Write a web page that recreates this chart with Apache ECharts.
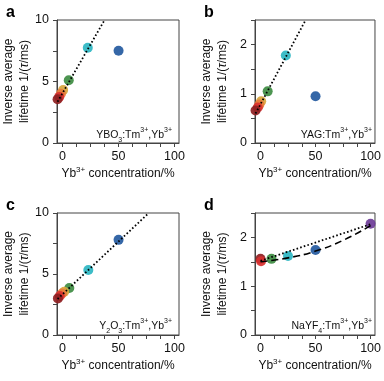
<!DOCTYPE html>
<html><head><meta charset="utf-8">
<script src="https://cdn.jsdelivr.net/npm/echarts@6/dist/echarts.min.js"></script>
<style>html,body{margin:0;padding:0;background:#fff}#c{width:384px;height:381px}</style>
</head><body><div id="c"></div>
<script>
// ---- data ----
const aX = [-4.5, -3, -1.5, 0.5, 5.5, 22.5, 50];
const aY = [3.55, 3.75, 4.0, 4.3, 5.1, 7.75, 7.5];
const aC = ['darkred','red','orange','yellow','green','cyan','blue'];
const aFitX = [-4.5, 37.5];
const aFitY = [3.35, 10];

const bX = [-4.5, -2.5, -1, 0.6, 6.5, 23, 50];
const bY = [0.66, 0.72, 0.78, 0.85, 1.05, 1.78, 0.95];
const bC = ['darkred','red','orange','yellow','green','cyan','blue'];
const bFitX = [-4.5, 41];
const bFitY = [0.6, 2.5];

const cX = [-4.2, -2.5, -0.5, 1.4, 6, 23, 50];
const cY = [3.0, 3.2, 3.4, 3.55, 3.85, 5.33, 7.8];
const cC = ['darkred','red','orange','yellow','green','cyan','blue'];
const cFitX = [-4.5, 77];
const cFitY = [2.95, 10];

const dX = [0.5, 0, 10, 25, 50, 100];
const dY = [1.51, 1.56, 1.56, 1.62, 1.74, 2.28];
const dC = ['red','darkred','green','cyan','blue','purple'];
const dDotX = [0, 100];
const dDotY = [1.52, 2.27];
const dDashX = [0, 25, 50, 75, 100];
const dDashY = [1.5, 1.58, 1.72, 1.94, 2.24];

const xTicks = [0, 12.5, 25, 37.5, 50, 62.5, 75, 87.5, 100];
const xLabels = [0, 50, 100];
const yTicksA = [0, 2.5, 5, 7.5, 10];
const yLabelsA = [0, 5, 10];
const yTicksB = [0, 0.5, 1, 1.5, 2, 2.5];
const yLabelsB = [0, 1, 2];

const panelLetters = ['a', 'b', 'c', 'd'];
const materials = [
  '{m|YBO}{sub|3}{m|:Tm}{sup|3+}{m|,Yb}{sup|3+}',
  '{m|YAG:Tm}{sup|3+}{m|,Yb}{sup|3+}',
  '{m|Y}{sub|2}{m|O}{sub|3}{m|:Tm}{sup|3+}{m|,Yb}{sup|3+}',
  '{m|NaYF}{sub|4}{m|:Tm}{sup|3+}{m|,Yb}{sup|3+}'
];

// ---- styles ----
const palette = {
  darkred: '#8e1f22', red: '#d8302f', orange: '#e6793a', yellow: '#d8a53c',
  green: '#3e8c42', cyan: '#2db6c2', blue: '#245a9f', purple: '#6c3b97'
};
const FONT = 'Liberation Sans, Arial, Helvetica, sans-serif';
const AX = '#444';

const grids = [
  {left: 57, top: 20, width: 122, height: 123},
  {left: 255, top: 20, width: 122, height: 123},
  {left: 57, top: 213, width: 122, height: 122},
  {left: 255, top: 213, width: 122, height: 122}
];

const supRich = {
  n: {fontFamily: FONT, fontSize: 12, color: '#111', lineHeight: 16},
  i: {fontFamily: FONT, fontSize: 12, color: '#111', fontStyle: 'italic', lineHeight: 16},
  sup: {fontFamily: FONT, fontSize: 8, color: '#111', verticalAlign: 'top', lineHeight: 16, padding: [0,0,6,0]}
};

function xAxisCfg(i) {
  return {
    type: 'value', gridIndex: i, min: -5, max: 104,
    axisLine: {onZero: false, lineStyle: {color: AX, width: 1}},
    axisTick: {show: true, customValues: xTicks, length: 4, lineStyle: {color: AX}},
    axisLabel: {customValues: xLabels, margin: 7, fontFamily: FONT, fontSize: 12.5, color: '#111'},
    splitLine: {show: false},
    name: '{n|Yb}{sup|3+}{n| concentration/%}',
    nameLocation: 'middle', nameGap: 23,
    nameTextStyle: {rich: supRich}
  };
}
function yAxisCfg(i, big) {
  return {
    type: 'value', gridIndex: i, min: 0, max: big ? 10 : 2.5,
    axisLine: {onZero: false, lineStyle: {color: AX, width: 1}},
    axisTick: {show: true, customValues: big ? yTicksA : yTicksB, length: 4, lineStyle: {color: AX}},
    axisLabel: {customValues: big ? yLabelsA : yLabelsB, margin: 8, fontFamily: FONT, fontSize: 12.5, color: '#111'},
    splitLine: {show: false},
    name: '{n|Inverse average}\n{n|lifetime 1/(}{i|τ}{n|/ms)}',
    nameLocation: 'middle', nameRotate: 90, nameGap: 24,
    nameTextStyle: {rich: supRich, align: 'center'}
  };
}

function scatter(i, xs, ys, cs) {
  const data = xs.map((x, k) => ({value: [x, ys[k]], itemStyle: {color: palette[cs[k]]}}));
  return {
    type: 'scatter', xAxisIndex: i, yAxisIndex: i, symbolSize: 10, z: 3,
    itemStyle: {opacity: 0.92}, data: data.reverse()
  };
}
function line(i, xs, ys, dash, smooth) {
  return {
    type: 'line', xAxisIndex: i, yAxisIndex: i, symbol: 'none', smooth: !!smooth, z: 4,
    lineStyle: {color: '#000', width: dash[0] > 3 ? 1.6 : 1.8, type: dash},
    data: xs.map((x, k) => [x, ys[k]])
  };
}

const titles = [];
const pos = [[6, 5], [204, 5], [6, 198], [204, 198]];
panelLetters.forEach((t, k) => titles.push({
  text: t, left: pos[k][0], top: pos[k][1], padding: 0,
  textStyle: {fontFamily: FONT, fontSize: 16, fontWeight: 'bold', color: '#000'}
}));
const matRich = {
  m: {fontFamily: FONT, fontSize: 10.5, fontWeight: 'normal', color: '#111', lineHeight: 14, verticalAlign: 'bottom'},
  sub: {fontFamily: FONT, fontSize: 7, fontWeight: 'normal', color: '#111', lineHeight: 14, verticalAlign: 'bottom', padding: [0,0,-3,0]},
  sup: {fontFamily: FONT, fontSize: 7, fontWeight: 'normal', color: '#111', lineHeight: 14, verticalAlign: 'top', padding: [0,0,0,0]}
};
const matPos = [[212, 127], [12, 127], [212, 318], [12, 318]];
materials.forEach((t, k) => titles.push({
  text: t, right: matPos[k][0], top: matPos[k][1], padding: 0,
  textStyle: {fontWeight: 'normal', rich: matRich}
}));

const option = {
  animation: false,
  backgroundColor: '#fff',
  title: titles,
  grid: grids.map(g => Object.assign({show: true, borderColor: AX, borderWidth: 1, backgroundColor: 'transparent'}, g)),
  xAxis: [0,1,2,3].map(xAxisCfg),
  yAxis: [yAxisCfg(0, true), yAxisCfg(1, false), yAxisCfg(2, true), yAxisCfg(3, false)],
  series: [
    scatter(0, aX, aY, aC), line(0, aFitX, aFitY, [1.6, 2.2]),
    scatter(1, bX, bY, bC), line(1, bFitX, bFitY, [1.6, 2.2]),
    scatter(2, cX, cY, cC), line(2, cFitX, cFitY, [1.6, 2.2]),
    scatter(3, dX, dY, dC), line(3, dDotX, dDotY, [1.6, 2.2]), line(3, dDashX, dDashY, [7, 4], true)
  ]
};
const chart = echarts.init(document.getElementById('c'), null, {renderer: 'canvas'});
chart.setOption(option);
</script>
</body></html>
